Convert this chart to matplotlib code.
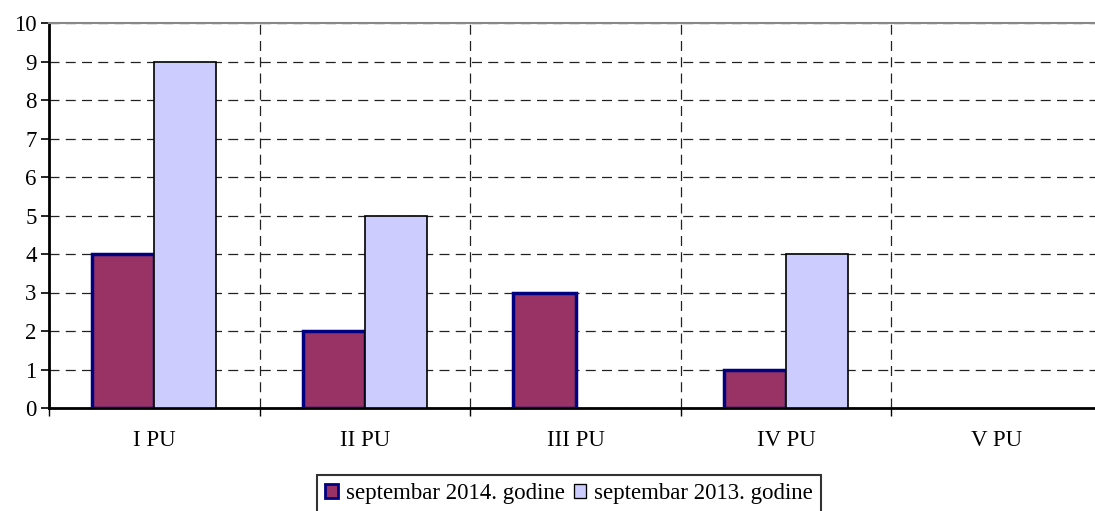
import matplotlib.pyplot as plt
import numpy as np

categories = ['I PU', 'II PU', 'III PU', 'IV PU', 'V PU']
sep_2014 = [4, 2, 3, 1, 0]
sep_2013 = [9, 5, 0, 4, 0]

plt.rcParams['font.family'] = ['Liberation Serif', 'DejaVu Serif']

fig = plt.figure(figsize=(10.95, 5.11), dpi=100)
# plot area: x 49..1102 px, y 23..408 px
ax = fig.add_axes([49 / 1095, 1 - 408 / 511, 1053 / 1095, 385 / 511])

x = np.arange(len(categories))
w = 0.295
# zero values are not drawn at all in the original
lw14 = [2.5 if v > 0 else 0 for v in sep_2014]
lw13 = [1.2 if v > 0 else 0 for v in sep_2013]
ax.bar(x - w / 2, sep_2014, w, color='#993366', edgecolor='#000080', linewidth=lw14,
       label='septembar 2014. godine', zorder=3)
ax.bar(x + w / 2, sep_2013, w, color='#CCCCFF', edgecolor='black', linewidth=lw13,
       label='septembar 2013. godine', zorder=3)

ax.set_xlim(-0.5, len(categories) - 0.5)
ax.set_ylim(0, 10)
ax.set_yticks(range(0, 11))
ax.set_xticks(x)
ax.set_xticklabels(categories)
ax.set_xticks(np.arange(-0.5, len(categories)), minor=True)

ax.tick_params(axis='x', which='major', length=0, pad=16, labelsize=16.5)
ax.tick_params(axis='x', which='minor', length=6, width=1, direction='out')
ax.tick_params(axis='y', length=6, width=1.2, direction='out', labelsize=16.5, pad=3)

ax.grid(axis='y', which='major', linestyle=(0, (8, 5)), color='#222222', linewidth=0.9, zorder=0)
ax.grid(axis='x', which='minor', linestyle=(0, (8, 5)), color='#222222', linewidth=0.9, zorder=0)

ax.spines['top'].set_color('#888888')
ax.spines['top'].set_linewidth(1.5)
ax.spines['right'].set_visible(False)
ax.spines['left'].set_linewidth(2)
ax.spines['bottom'].set_linewidth(2)

leg = ax.legend(loc='center', bbox_to_anchor=(569 / 1095, 1 - 494 / 511),
                bbox_transform=fig.transFigure, ncol=2, frameon=True, fancybox=False,
                edgecolor='black', fontsize=16.5, handlelength=0.55, handleheight=0.55,
                handletextpad=0.35, columnspacing=0.4, borderpad=0.35, borderaxespad=0)
leg.get_frame().set_linewidth(1.5)
for h in leg.legend_handles:
    h.set_linewidth(h.get_linewidth() * 0.8)

fig.savefig('out.png', dpi=100)
